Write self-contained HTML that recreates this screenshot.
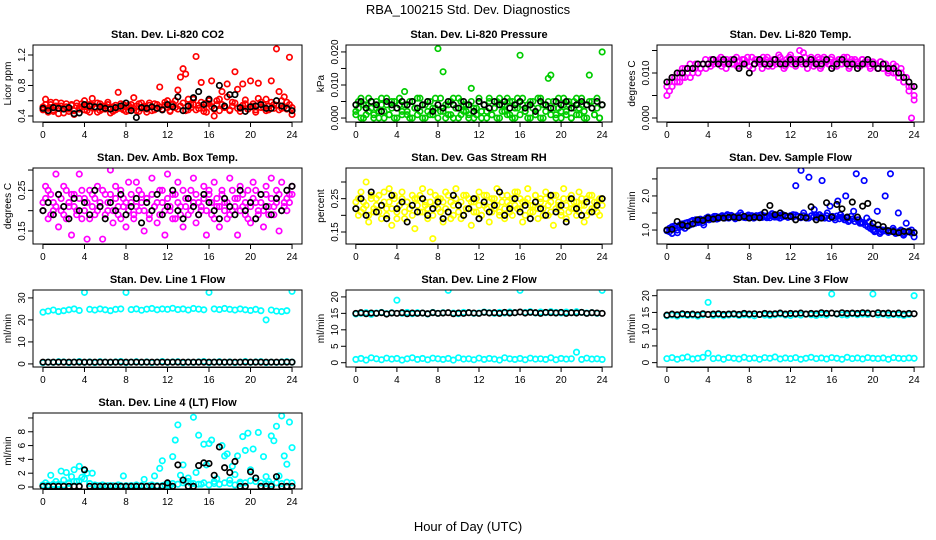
<!DOCTYPE html>
<html><head><meta charset="utf-8">
<style>
html,body{margin:0;padding:0;background:#fff;}
svg{display:block;font-family:"Liberation Sans",Arial,sans-serif;}
</style></head>
<body>
<svg id="chart" width="936" height="540" viewBox="0 0 936 540" xmlns="http://www.w3.org/2000/svg">
<text x="468" y="14" text-anchor="middle" font-size="13">RBA_100215  Std. Dev. Diagnostics</text>
<text x="468" y="531" text-anchor="middle" font-size="13">Hour of Day (UTC)</text>
</svg>
<script>
const xTicks = [0,4,8,12,16,20,24];
const co2Red = [0.52,0.62,0.45,0.55,0.48,0.58,0.43,0.53,0.50,0.56,0.46,0.54,0.42,0.57,0.49,0.52,0.60,0.47,0.55,0.63,0.51,0.45,0.56,0.49,0.53,0.58,0.44,0.52,0.48,0.71,0.50,0.55,0.46,0.54,0.51,0.64,0.47,0.56,0.50,0.53,0.45,0.57,0.52,0.48,0.55,0.78,0.49,0.54,0.60,0.47,0.56,0.51,0.74,0.91,1.02,0.95,0.48,0.55,0.62,1.18,0.50,0.84,0.46,0.57,0.60,0.86,0.40,0.55,0.62,0.72,0.52,0.82,0.47,0.58,0.98,0.75,0.50,0.82,0.56,0.49,0.86,0.53,0.45,0.83,0.58,0.51,0.62,0.48,0.86,0.55,1.28,0.72,0.50,0.65,0.58,1.17,0.42];
const co2Red2 = [0.48,0.55,0.50,0.58,0.46,0.53,0.51,0.57,0.44,0.52,0.49,0.55,0.47,0.53,0.50,0.56,0.48,0.52,0.45,0.54,0.50,0.57,0.47,0.53,0.49,0.55,0.51,0.46,0.54,0.50,0.56,0.48,0.52,0.47,0.55,0.50,0.53,0.46,0.57,0.51,0.49,0.54,0.47,0.56,0.50,0.52,0.48,0.58,0.51,0.46,0.55,0.60,0.49,0.53,0.57,0.47,0.62,0.51,0.55,0.48,0.54,0.58,0.50,0.45,0.56,0.52,0.49,0.60,0.47,0.55,0.51,0.65,0.48,0.53,0.57,0.50,0.46,0.54,0.61,0.49,0.52,0.56,0.48,0.63,0.51,0.55,0.47,0.53,0.58,0.50,0.54,0.48,0.60,0.52,0.49,0.55,0.51];
const co2Black = [0.50,0.47,0.51,0.50,0.49,0.51,0.43,0.44,0.55,0.53,0.52,0.52,0.50,0.49,0.51,0.53,0.57,0.47,0.38,0.51,0.50,0.52,0.50,0.48,0.55,0.52,0.65,0.47,0.53,0.64,0.72,0.55,0.62,0.50,0.80,0.53,0.68,0.68,0.51,0.46,0.52,0.53,0.55,0.50,0.50,0.60,0.53,0.50,0.47];
const presGreen = [0.002,0.005,0.000,0.004,0.001,0.006,0.003,0.000,0.005,0.002,0.004,0.000,0.006,0.001,0.003,0.005,0.000,0.004,0.002,0.008,0.001,0.005,0.000,0.003,0.006,0.002,0.004,0.000,0.005,0.001,0.003,0.006,0.021,0.002,0.014,0.000,0.004,0.001,0.006,0.003,0.000,0.005,0.002,0.004,0.001,0.009,0.000,0.003,0.005,0.002,0.004,0.000,0.006,0.001,0.003,0.005,0.000,0.004,0.002,0.006,0.001,0.005,0.000,0.003,0.019,0.006,0.002,0.004,0.000,0.005,0.001,0.003,0.006,0.000,0.004,0.012,0.013,0.005,0.001,0.003,0.000,0.006,0.002,0.004,0.000,0.005,0.001,0.003,0.006,0.000,0.004,0.013,0.005,0.001,0.003,0.000,0.020];
const presGreen2 = [0.001,0.003,0.006,0.000,0.004,0.002,0.005,0.001,0.003,0.000,0.006,0.002,0.004,0.001,0.005,0.000,0.003,0.006,0.001,0.004,0.002,0.000,0.005,0.003,0.001,0.006,0.000,0.004,0.002,0.005,0.001,0.003,0.000,0.006,0.002,0.004,0.001,0.005,0.000,0.003,0.006,0.001,0.004,0.002,0.000,0.005,0.003,0.001,0.006,0.000,0.004,0.002,0.005,0.001,0.003,0.000,0.006,0.002,0.004,0.001,0.005,0.000,0.003,0.006,0.001,0.004,0.002,0.000,0.005,0.003,0.001,0.006,0.000,0.004,0.002,0.005,0.001,0.003,0.000,0.006,0.002,0.004,0.001,0.005,0.000,0.003,0.006,0.001,0.004,0.002,0.000,0.005,0.003,0.001,0.006,0.000,0.004];
const presBlack = [0.004,0.005,0.003,0.005,0.004,0.002,0.005,0.004,0.003,0.005,0.004,0.005,0.003,0.004,0.005,0.002,0.004,0.003,0.005,0.004,0.003,0.005,0.004,0.002,0.005,0.004,0.003,0.005,0.004,0.005,0.003,0.004,0.005,0.003,0.004,0.002,0.005,0.004,0.003,0.005,0.004,0.005,0.003,0.004,0.005,0.004,0.003,0.005,0.004];
const tempMag = [0.005,0.008,0.007,0.009,0.008,0.010,0.009,0.011,0.010,0.009,0.011,0.012,0.010,0.011,0.012,0.011,0.012,0.013,0.012,0.0125,0.013,0.0115,0.012,0.013,0.0125,0.012,0.013,0.0115,0.0125,0.013,0.012,0.0135,0.0125,0.011,0.013,0.0125,0.012,0.0135,0.013,0.0115,0.0125,0.013,0.012,0.014,0.0125,0.011,0.013,0.0135,0.012,0.013,0.0125,0.015,0.012,0.0135,0.011,0.013,0.0125,0.012,0.0135,0.011,0.013,0.0125,0.012,0.013,0.0115,0.0125,0.013,0.012,0.0135,0.0125,0.011,0.013,0.012,0.0125,0.0115,0.013,0.012,0.0125,0.0115,0.012,0.012,0.011,0.0125,0.011,0.012,0.010,0.011,0.012,0.010,0.009,0.011,0.008,0.009,0.007,0.000,0.005];
const tempMag2 = [0.007,0.006,0.009,0.008,0.010,0.008,0.011,0.009,0.010,0.012,0.010,0.011,0.012,0.011,0.012,0.013,0.012,0.0115,0.013,0.0125,0.012,0.0135,0.0125,0.011,0.0125,0.013,0.012,0.0135,0.0115,0.012,0.013,0.0125,0.0115,0.0135,0.012,0.013,0.0125,0.011,0.0125,0.0135,0.012,0.0115,0.013,0.0125,0.0135,0.012,0.0115,0.0125,0.014,0.0125,0.0115,0.013,0.0125,0.0145,0.012,0.0125,0.0135,0.0115,0.0125,0.013,0.0115,0.0135,0.0125,0.012,0.0135,0.0125,0.0115,0.013,0.012,0.0125,0.0135,0.0115,0.0125,0.013,0.012,0.0115,0.013,0.0125,0.012,0.011,0.0125,0.012,0.011,0.0125,0.011,0.012,0.0105,0.011,0.010,0.0115,0.009,0.010,0.008,0.009,0.006,0.007,0.004];
const tempBlack = [0.008,0.009,0.010,0.010,0.011,0.011,0.012,0.012,0.012,0.013,0.012,0.013,0.012,0.013,0.011,0.012,0.010,0.012,0.013,0.012,0.012,0.013,0.012,0.012,0.013,0.012,0.013,0.012,0.013,0.012,0.012,0.013,0.011,0.012,0.013,0.012,0.012,0.011,0.012,0.013,0.012,0.011,0.012,0.011,0.011,0.010,0.009,0.008,0.007];
const boxMag = [0.22,0.26,0.18,0.24,0.20,0.29,0.16,0.23,0.19,0.25,0.21,0.14,0.24,0.20,0.29,0.18,0.23,0.13,0.25,0.21,0.19,0.26,0.22,0.13,0.24,0.20,0.30,0.17,0.23,0.19,0.25,0.21,0.16,0.27,0.22,0.18,0.27,0.20,0.24,0.15,0.23,0.19,0.28,0.21,0.17,0.25,0.22,0.14,0.29,0.20,0.24,0.18,0.27,0.21,0.16,0.23,0.19,0.25,0.28,0.17,0.22,0.20,0.26,0.14,0.24,0.19,0.27,0.21,0.16,0.25,0.22,0.18,0.28,0.20,0.23,0.14,0.26,0.21,0.19,0.25,0.17,0.27,0.22,0.20,0.24,0.16,0.26,0.19,0.28,0.21,0.25,0.15,0.27,0.22,0.20,0.24,0.26];
const boxMag2 = [0.20,0.23,0.25,0.19,0.22,0.21,0.24,0.20,0.26,0.18,0.22,0.24,0.21,0.19,0.23,0.25,0.20,0.22,0.18,0.24,0.23,0.20,0.21,0.25,0.19,0.22,0.24,0.20,0.26,0.21,0.18,0.23,0.22,0.20,0.24,0.19,0.21,0.25,0.22,0.20,0.23,0.18,0.24,0.21,0.22,0.19,0.25,0.20,0.23,0.21,0.18,0.24,0.22,0.19,0.25,0.21,0.23,0.20,0.22,0.24,0.19,0.21,0.23,0.20,0.25,0.22,0.18,0.23,0.21,0.24,0.20,0.22,0.19,0.25,0.21,0.23,0.20,0.24,0.22,0.18,0.21,0.23,0.25,0.19,0.22,0.20,0.24,0.21,0.23,0.19,0.22,0.24,0.20,0.21,0.23,0.22,0.24];
const boxBlack = [0.20,0.22,0.19,0.24,0.21,0.18,0.23,0.20,0.22,0.19,0.25,0.21,0.18,0.22,0.20,0.24,0.19,0.21,0.23,0.17,0.22,0.20,0.24,0.19,0.21,0.25,0.20,0.18,0.23,0.21,0.19,0.24,0.22,0.20,0.18,0.23,0.21,0.19,0.25,0.20,0.22,0.18,0.24,0.21,0.19,0.23,0.20,0.25,0.26];
const rhYellow = [0.24,0.20,0.27,0.22,0.30,0.18,0.25,0.21,0.23,0.26,0.19,0.24,0.22,0.28,0.17,0.25,0.21,0.23,0.27,0.19,0.24,0.22,0.26,0.16,0.25,0.21,0.28,0.23,0.19,0.24,0.13,0.26,0.22,0.25,0.18,0.27,0.21,0.24,0.20,0.28,0.23,0.19,0.26,0.22,0.25,0.17,0.24,0.21,0.27,0.20,0.23,0.26,0.18,0.25,0.22,0.28,0.21,0.24,0.19,0.26,0.23,0.20,0.27,0.22,0.25,0.18,0.24,0.28,0.21,0.23,0.26,0.19,0.25,0.22,0.27,0.20,0.24,0.17,0.26,0.23,0.21,0.28,0.19,0.25,0.22,0.24,0.20,0.27,0.23,0.18,0.25,0.21,0.26,0.22,0.24,0.20,0.25];
const rhYellow2 = [0.22,0.25,0.21,0.24,0.23,0.20,0.26,0.22,0.25,0.21,0.23,0.27,0.20,0.24,0.22,0.26,0.19,0.23,0.25,0.21,0.24,0.22,0.20,0.25,0.23,0.26,0.21,0.24,0.22,0.27,0.20,0.23,0.25,0.21,0.24,0.22,0.26,0.19,0.23,0.25,0.21,0.24,0.20,0.26,0.22,0.24,0.21,0.25,0.23,0.20,0.26,0.22,0.24,0.21,0.25,0.23,0.20,0.26,0.22,0.24,0.21,0.25,0.23,0.27,0.22,0.24,0.20,0.25,0.23,0.21,0.26,0.22,0.24,0.20,0.25,0.23,0.21,0.26,0.22,0.24,0.20,0.25,0.23,0.21,0.26,0.22,0.24,0.21,0.25,0.23,0.20,0.26,0.22,0.24,0.21,0.25,0.23];
const rhBlack = [0.22,0.25,0.20,0.27,0.21,0.23,0.19,0.26,0.22,0.24,0.18,0.23,0.21,0.25,0.20,0.22,0.24,0.19,0.21,0.26,0.23,0.20,0.22,0.25,0.19,0.24,0.21,0.23,0.27,0.20,0.22,0.25,0.21,0.23,0.19,0.24,0.22,0.20,0.26,0.21,0.23,0.18,0.25,0.22,0.20,0.24,0.21,0.23,0.25];
const flowBlue = [1.00,0.95,1.10,1.05,0.92,1.15,1.10,1.20,1.12,1.25,1.18,1.30,1.22,1.28,1.15,1.35,1.30,1.35,1.40,1.32,1.38,1.42,1.35,1.45,1.38,1.40,1.33,1.42,1.50,1.38,1.36,1.44,1.40,1.35,1.42,1.38,1.45,1.40,1.36,1.42,1.48,1.38,1.40,1.35,1.45,1.42,1.38,1.40,1.45,2.30,1.40,2.75,1.50,1.35,2.55,1.42,1.60,1.38,1.45,2.45,1.35,1.50,1.70,1.40,1.30,1.85,1.45,1.35,2.00,1.25,1.40,1.55,2.65,1.30,1.20,2.45,1.35,1.25,1.10,0.95,1.55,0.90,1.00,2.00,0.95,2.65,1.05,0.90,1.50,1.00,0.85,1.20,0.95,1.00,0.80];
const flowBlue2 = [0.98,1.05,0.90,1.12,1.00,1.08,1.18,1.05,1.22,1.15,1.28,1.20,1.25,1.32,1.22,1.30,1.38,1.32,1.36,1.40,1.34,1.39,1.37,1.41,1.35,1.43,1.38,1.36,1.40,1.44,1.37,1.41,1.38,1.42,1.36,1.40,1.43,1.37,1.41,1.39,1.36,1.42,1.40,1.38,1.43,1.39,1.41,1.37,1.42,1.38,1.44,1.40,1.36,1.42,1.39,1.35,1.41,1.38,1.43,1.36,1.40,1.37,1.42,1.34,1.39,1.36,1.41,1.33,1.38,1.30,1.35,1.28,1.32,1.25,1.30,1.20,1.22,1.15,1.10,1.05,1.00,0.98,1.02,0.95,0.97,1.00,0.93,0.96,0.99,0.92,0.95,0.98,0.90,0.94,0.97,0.91,0.93];
const flowBlack = [1.00,1.02,1.25,1.15,1.12,1.18,1.30,1.28,1.35,1.32,1.36,1.35,1.37,1.38,1.36,1.40,1.35,1.38,1.36,1.52,1.72,1.45,1.50,1.42,1.40,1.30,1.38,1.36,1.68,1.30,1.35,1.80,1.38,1.75,1.62,1.38,1.82,1.38,1.70,1.78,1.20,1.15,1.10,0.98,0.95,0.92,0.96,0.95,0.92];
const line1Hi = [23.5,24,24.5,23.8,24.2,24.6,25,24.3,32.5,24.8,24.5,25,24.6,24.2,24.8,25,32.5,24.7,25,24.4,24.9,25.2,24.6,25,24.8,25.3,24.7,25,24.5,25.2,24.9,24.6,32.5,25,24.7,25.2,24.8,24.5,25,24.6,24.3,24.8,24.2,20,24.5,24,23.8,24.2,33];
const line1Lo = [0.6,0.8,0.7,1.0,0.9,0.6,0.8,1.1,0.7,0.9,0.6,1.0,0.8,0.7,0.9,1.1,0.6,0.8,1.0,0.7,0.9,0.6,0.8,1.1,0.7,0.9,1.0,0.6,0.8,0.7,0.9,1.1,0.6,0.8,1.0,0.7,0.9,0.6,0.8,1.1,0.7,0.9,1.0,0.6,0.8,0.7,0.9,1.0,0.8];
const line1Black = [0.8,0.8,0.8,0.8,0.8,0.8,0.8,0.8,0.8,0.8,0.8,0.8,0.8,0.8,0.8,0.8,0.8,0.8,0.8,0.8,0.8,0.8,0.8,0.8,0.8,0.8,0.8,0.8,0.8,0.8,0.8,0.8,0.8,0.8,0.8,0.8,0.8,0.8,0.8,0.8,0.8,0.8,0.8,0.8,0.8,0.8,0.8,0.8,0.8];
const line2Hi = [14.8,15,15.2,14.7,15.1,15.3,14.9,15.2,19,15,15.3,14.9,15.2,15.1,14.8,15.3,15,15.2,22,15.1,14.9,15.3,15.2,15,15.1,15.4,15.2,15,15.3,15.1,15.4,15.2,22,15.3,15.5,15.1,15.4,15.2,15.5,15.3,15.1,15.4,15.2,15.5,15.3,15.1,15.2,15,22];
const line2Lo = [1.0,1.3,0.8,1.5,1.2,0.9,1.4,1.1,1.3,0.8,1.2,1.5,1.0,1.3,0.9,1.4,1.2,1.0,1.3,0.8,1.5,1.1,1.2,0.9,1.4,1.0,1.3,1.1,0.8,1.5,1.2,1.0,1.3,0.9,1.4,1.1,1.2,1.0,1.5,0.9,1.3,1.1,1.2,3.2,1.0,1.4,1.1,1.2,1.0];
const line2Black = [15,15.2,14.9,15.1,15,15.2,14.8,15.1,15,15.2,14.9,15.1,15,15.1,14.9,15.2,15,15.1,15.2,14.9,15.1,15,15.2,15.1,15,15.3,15.1,15.2,15,15.3,15.1,15.2,15.4,15.1,15.3,15.2,15,15.3,15.2,15.1,15.3,15,15.2,15.1,15.3,15,15.2,15.1,15];
const line3Hi = [14,14.2,13.9,14.3,14.1,14.2,13.9,14.3,18,14.1,14.3,14,14.2,14.4,14.1,14.3,14.2,14,14.4,14.2,14.1,14.3,14.5,14.2,14.1,14.4,14.2,14.5,14.3,14.1,14.4,14.2,20.5,14.5,14.3,14.2,14.6,14.3,14.5,14.4,20.5,14.3,14.5,14.2,14.4,14.3,14.1,14.4,20];
const line3Lo = [1.2,1.5,1.0,1.4,1.7,1.1,1.3,1.6,2.8,1.2,1.4,1.0,1.5,1.3,1.1,1.6,1.2,1.4,1.0,1.5,1.3,1.7,1.1,1.4,1.2,1.5,1.0,1.3,1.6,1.2,1.4,1.1,1.5,1.3,1.0,1.6,1.2,1.4,1.1,1.5,1.3,1.2,1.4,1.0,1.5,1.3,1.2,1.4,1.3];
const line3Black = [14.2,14.5,14.3,14.6,14.4,14.5,14.3,14.6,14.4,14.5,14.6,14.4,14.5,14.6,14.4,14.7,14.5,14.6,14.4,14.7,14.5,14.6,14.8,14.5,14.7,14.6,14.8,14.5,14.7,14.6,14.9,14.7,14.8,14.6,14.9,14.7,14.8,14.7,14.9,14.8,14.6,14.9,14.7,14.8,14.6,14.8,14.5,14.7,14.6];
const line4Cyan = [0.3,0.6,0.2,1.7,0.4,0.8,0.3,2.3,1.0,2.1,0.5,1.5,2.5,0.8,3.0,1.4,2.4,2.0,0.5,2.0,0.3,0.2,0.1,0.3,0.1,0.2,0.1,0.2,0.1,0.3,0.1,1.6,0.2,0.1,0.2,0.1,0.3,0.1,0.2,1.1,0.1,0.2,0.3,1.6,0.2,2.7,3.8,0.3,0.5,0.2,4.4,6.8,9.0,1.7,3.2,0.8,1.3,0.5,10.1,2.1,7.5,0.4,6.2,3.2,6.3,6.8,0.8,1.2,0.4,6.0,4.5,4.8,1.0,3.0,1.8,4.5,0.7,7.3,5.3,7.8,2.5,5.5,1.3,7.9,0.6,4.4,1.5,0.8,7.4,6.7,8.8,1.6,10.3,4.5,3.3,9.4,5.7];
const line4Base = [0.2,0.3,0.2,0.4,0.3,0.6,0.8,0.9,1.2,0.5,0.2,0.2,0.1,0.2,0.1,0.2,0.1,0.2,0.1,0.2,0.1,0.2,0.1,0.2,0.3,0.5,0.4,0.6,0.8,0.5,0.4,0.6,0.3,0.5,0.4,0.6,0.5,0.3,0.5,0.6,0.9,0.8,0.6,0.5,0.4,0.6,0.5,0.7,0.6];
const line4Black = [0.1,0.1,0.1,0.1,0.1,0.1,0.1,0.1,2.5,0.1,0.1,0.1,0.1,0.1,0.1,0.1,0.1,0.1,0.1,0.1,0.1,0.1,0.1,0.1,0.6,0.1,3.2,1.0,0.1,0.1,3.1,3.5,3.4,1.7,5.8,2.8,2.1,3.7,0.1,0.1,2.2,1.3,0.1,0.1,0.1,1.5,0.1,0.1,0.1];

const cols = [[33,302],[346,612],[657,924]];
const rows = [[45,122],[168,244],[290,367],[413,489]];
const panels = [
 {name:'co2',title:'Stan. Dev. Li-820 CO2',ylab:'Licor ppm',c:0,r:0,ymin:0.321,ymax:1.331,yt:[0.4,0.6,0.8,1.0,1.2],ylbl:[0.4,0.8,1.2],fmt:v=>v.toFixed(1),series:[[co2Red,'#ff0000'],[co2Red2,'#ff0000'],[co2Black,'#000']]},
 {name:'pressure',title:'Stan. Dev. Li-820 Pressure',ylab:'kPa',c:1,r:0,ymin:-0.0012,ymax:0.0221,yt:[0,0.005,0.01,0.015,0.02],ylbl:[0,0.01,0.02],fmt:v=>v.toFixed(3),series:[[presGreen,'#00cc00'],[presGreen2,'#00cc00'],[presBlack,'#000']]},
 {name:'temp',title:'Stan. Dev. Li-820 Temp.',ylab:'degrees C',c:2,r:0,ymin:-0.00089,ymax:0.01622,yt:[0,0.005,0.01,0.015],ylbl:[0,0.01],fmt:v=>v.toFixed(3),series:[[tempMag,'#ff00ff'],[tempMag2,'#ff00ff'],[tempBlack,'#000']]},
 {name:'amb-box',title:'Stan. Dev. Amb. Box Temp.',ylab:'degrees C',c:0,r:1,ymin:0.118,ymax:0.305,yt:[0.15,0.20,0.25,0.30],ylbl:[0.15,0.25],fmt:v=>v.toFixed(2),series:[[boxMag,'#ff00ff'],[boxMag2,'#ff00ff'],[boxBlack,'#000']]},
 {name:'rh',title:'Stan. Dev. Gas Stream RH',ylab:'percent',c:1,r:1,ymin:0.114,ymax:0.342,yt:[0.15,0.20,0.25,0.30],ylbl:[0.15,0.25],fmt:v=>v.toFixed(2),series:[[rhYellow,'#ffff00'],[rhYellow2,'#ffff00'],[rhBlack,'#000']]},
 {name:'sample-flow',title:'Stan. Dev. Sample Flow',ylab:'ml/min',c:2,r:1,ymin:0.59,ymax:2.82,yt:[1.0,1.5,2.0,2.5],ylbl:[1.0,2.0],fmt:v=>v.toFixed(1),series:[[flowBlue,'#0000ff'],[flowBlue2,'#0000ff'],[flowBlack,'#000']]},
 {name:'line1',title:'Stan. Dev. Line 1 Flow',ylab:'ml/min',c:0,r:2,ymin:-1.4,ymax:33.6,yt:[0,10,20,30],ylbl:[0,10,20,30],fmt:v=>String(v),series:[[line1Hi,'#00ffff'],[line1Lo,'#00ffff'],[line1Black,'#000']]},
 {name:'line2',title:'Stan. Dev. Line 2 Flow',ylab:'ml/min',c:1,r:2,ymin:-1.3,ymax:22.1,yt:[0,5,10,15,20],ylbl:[0,5,10,15,20],fmt:v=>String(v),series:[[line2Hi,'#00ffff'],[line2Lo,'#00ffff'],[line2Black,'#000']]},
 {name:'line3',title:'Stan. Dev. Line 3 Flow',ylab:'ml/min',c:2,r:2,ymin:-1.3,ymax:21.7,yt:[0,5,10,15,20],ylbl:[0,5,10,15,20],fmt:v=>String(v),series:[[line3Hi,'#00ffff'],[line3Lo,'#00ffff'],[line3Black,'#000']]},
 {name:'line4',title:'Stan. Dev. Line 4 (LT) Flow',ylab:'ml/min',c:0,r:3,ymin:-0.29,ymax:10.72,yt:[0,2,4,6,8,10],ylbl:[0,2,4,6,8],fmt:v=>String(v),series:[[line4Cyan,'#00ffff'],[line4Base,'#00ffff'],[line4Black,'#000']]}
];
const NS='http://www.w3.org/2000/svg';
const svg=document.getElementById('chart');
function mk(tag,attrs,parent){const e=document.createElementNS(NS,tag);for(const k in attrs)e.setAttribute(k,attrs[k]);(parent||svg).appendChild(e);return e;}
panels.forEach(p=>{
  const [x0,x1]=cols[p.c],[y0,y1]=rows[p.r];
  const xs=v=>x0+(v+0.96)/25.92*(x1-x0);
  const ys=v=>y1-(v-p.ymin)/(p.ymax-p.ymin)*(y1-y0);
  const g=mk('g',{});
  
  
  const cp=mk('clipPath',{id:'cp-'+p.name},g);
  mk('rect',{x:x0,y:y0,width:x1-x0,height:y1-y0},cp);
  const pts=mk('g',{'clip-path':'url(#cp-'+p.name+')'},g);
  
  
  p.series.forEach(([arr,col])=>{
    const n=arr.length;
    arr.forEach((v,i)=>{
      const c=mk('circle',{cx:xs(i*24/(n-1)),cy:ys(v),r:2.7,fill:'none',stroke:col,'stroke-width':1.7},pts);
      
      
    });
  });
  const box=mk('rect',{x:x0,y:y0,width:x1-x0,height:y1-y0,fill:'none',stroke:'#000','stroke-width':1},g);
  
  
  const t=mk('text',{x:(x0+x1)/2,y:y0-7,'text-anchor':'middle','font-size':11,'font-weight':'bold'},g);
  t.textContent=p.title;
  
  
  xTicks.forEach(v=>{
    const x=xs(v);
    mk('line',{x1:x,x2:x,y1:y1,y2:y1+5,stroke:'#000'},g);
    const l=mk('text',{x:x,y:y1+16,'text-anchor':'middle','font-size':10},g);
    l.textContent=v;
    
    
  });
  mk('line',{x1:xs(0),x2:xs(24),y1:y1+0.5,y2:y1+0.5,stroke:'#000'},g);
  p.yt.forEach(v=>{
    const y=ys(v);
    if(y<y0-1) return;
    mk('line',{x1:x0-5,x2:x0,y1:y,y2:y,stroke:'#000'},g);
  });
  p.ylbl.forEach(v=>{
    const y=ys(v);
    const l=mk('text',{x:x0-8,y:y,'text-anchor':'middle','font-size':10,transform:'rotate(-90 '+(x0-8)+' '+y+')'},g);
    l.textContent=p.fmt(v);
    
    
  });
  const yl=mk('text',{x:x0-22,y:(y0+y1)/2,'text-anchor':'middle','font-size':10,transform:'rotate(-90 '+(x0-22)+' '+((y0+y1)/2)+')'},g);
  yl.textContent=p.ylab;
  
  
});
</script>
</body></html>
